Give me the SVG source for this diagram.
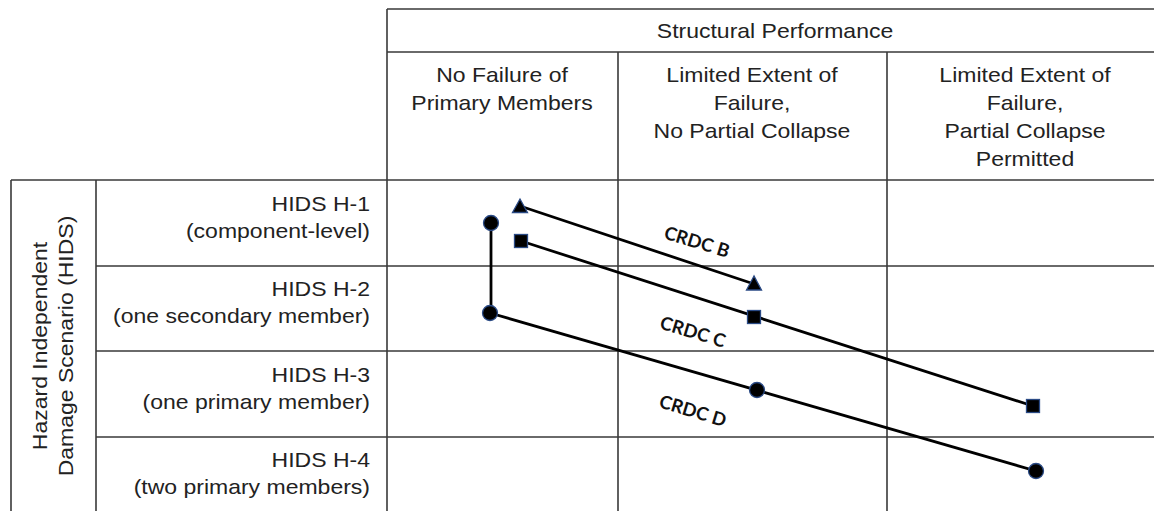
<svg xmlns="http://www.w3.org/2000/svg" width="1154" height="511" viewBox="0 0 1154 511">
<style>
.g{stroke:#3a3a3a;stroke-width:1.6;fill:none}
.t{font-family:"Liberation Sans",Arial,sans-serif;font-size:20px;fill:#222}
.m{text-anchor:middle}
.e{text-anchor:end}
.c{stroke:#000;stroke-width:2.8;fill:none}
.k{fill:#000;stroke:#2a4a85;stroke-width:1.3}
.lb{font-family:Lato,"Open Sans",sans-serif;font-weight:bold;font-size:18.5px;fill:#111;text-anchor:middle}
</style>
<rect width="1154" height="511" fill="#fff"/>
<g id="grid">
<path class="g" d="M387 9H1154M387 52H1154M11 180H1154M96 266H1154M96 351H1154M96 437H1154M387 9V511M618 52V511M887 52V511M11 180V511M96 180V511"/>
</g>
<g id="header">
<text class="t m" transform="translate(775,38) scale(1.15,1)">Structural Performance</text>
<text class="t m" transform="translate(502,82) scale(1.15,1)">No Failure of</text>
<text class="t m" transform="translate(502,110) scale(1.15,1)">Primary Members</text>
<text class="t m" transform="translate(752,82) scale(1.15,1)">Limited Extent of</text>
<text class="t m" transform="translate(752,110) scale(1.15,1)">Failure,</text>
<text class="t m" transform="translate(752,138) scale(1.15,1)">No Partial Collapse</text>
<text class="t m" transform="translate(1025,82) scale(1.15,1)">Limited Extent of</text>
<text class="t m" transform="translate(1025,110) scale(1.15,1)">Failure,</text>
<text class="t m" transform="translate(1025,138) scale(1.15,1)">Partial Collapse</text>
<text class="t m" transform="translate(1025,166) scale(1.15,1)">Permitted</text>
</g>
<g id="hids-label">
<text class="t m" transform="translate(47,346) rotate(-90) scale(1.15,1)">Hazard Independent</text>
<text class="t m" transform="translate(73,346) rotate(-90) scale(1.15,1)">Damage Scenario (HIDS)</text>
</g>
<g id="row-h1">
<text class="t e" transform="translate(370,211) scale(1.15,1)">HIDS H-1</text>
<text class="t e" transform="translate(370,238) scale(1.15,1)">(component-level)</text>
</g>
<g id="row-h2">
<text class="t e" transform="translate(370,296) scale(1.15,1)">HIDS H-2</text>
<text class="t e" transform="translate(370,323) scale(1.15,1)">(one secondary member)</text>
</g>
<g id="row-h3">
<text class="t e" transform="translate(370,382) scale(1.15,1)">HIDS H-3</text>
<text class="t e" transform="translate(370,409) scale(1.15,1)">(one primary member)</text>
</g>
<g id="row-h4">
<text class="t e" transform="translate(370,467) scale(1.15,1)">HIDS H-4</text>
<text class="t e" transform="translate(370,494) scale(1.15,1)">(two primary members)</text>
</g>
<g id="connectors">
<path class="c" d="M520 206L754 284"/>
<path class="c" d="M521 241L1033 406"/>
<path class="c" d="M490 313L1036 471"/>
<path class="c" d="M491 223V313"/>
</g>
<g id="crdc-b">
<polygon class="k" points="520,199 512.5,212.5 527.5,212.5"/>
<polygon class="k" points="754,276 746.5,290 761.5,290"/>
<text class="lb" transform="translate(695,248) rotate(17)">CRDC B</text>
</g>
<g id="crdc-c">
<rect class="k" x="514.5" y="234.5" width="13" height="13"/>
<rect class="k" x="747.5" y="310.5" width="13" height="13"/>
<rect class="k" x="1026.5" y="399.5" width="13" height="13"/>
<text class="lb" transform="translate(691,338) rotate(17)">CRDC C</text>
</g>
<g id="crdc-d">
<circle class="k" cx="491" cy="223" r="7.5"/>
<circle class="k" cx="490" cy="313" r="7.5"/>
<circle class="k" cx="757" cy="390" r="7.5"/>
<circle class="k" cx="1036" cy="471" r="7.5"/>
<text class="lb" transform="translate(691,417) rotate(17)">CRDC D</text>
</g>
</svg>
